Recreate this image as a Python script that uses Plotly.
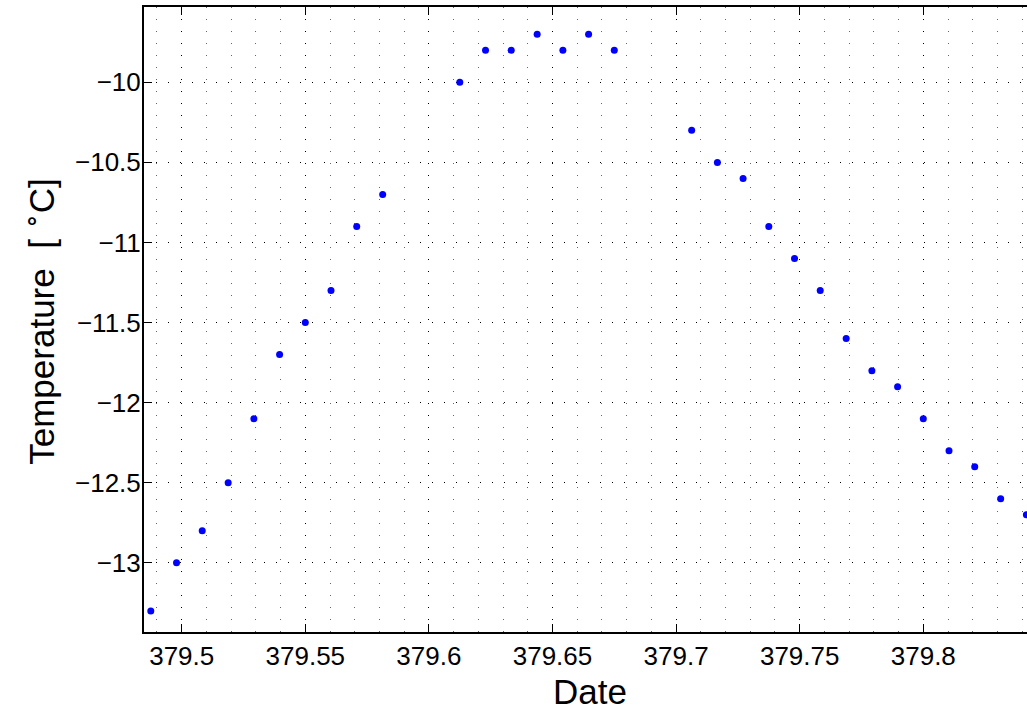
import plotly.graph_objects as go

# Data
dates = [379.4875, 379.4979, 379.5083, 379.5188, 379.5292, 379.5396, 379.5500,
         379.5604, 379.5708, 379.5813,
         379.6125, 379.6229, 379.6333, 379.6438, 379.6542, 379.6646, 379.6750,
         379.7063, 379.7167, 379.7271, 379.7375, 379.7479, 379.7583, 379.7688,
         379.7792, 379.7896, 379.8000, 379.8104, 379.8208, 379.8313, 379.8417]
temps = [-13.3, -13.0, -12.8, -12.5, -12.1, -11.7, -11.5,
         -11.3, -10.9, -10.7,
         -10.0, -9.8, -9.8, -9.7, -9.8, -9.7, -9.8,
         -10.3, -10.5, -10.6, -10.9, -11.1, -11.3, -11.6,
         -11.8, -11.9, -12.1, -12.3, -12.4, -12.6, -12.7]

x_tick_vals = [379.5, 379.55, 379.6, 379.65, 379.7, 379.75, 379.8]
x_tick_labels = ["379.5", "379.55", "379.6", "379.65", "379.7", "379.75", "379.8"]
y_tick_vals = [-13, -12.5, -12, -11.5, -11, -10.5, -10]
y_tick_labels = ["\u221213", "\u221212.5", "\u221212", "\u221211.5", "\u221211", "\u221210.5", "\u221210"]

x_title = "Date"
y_title = "Temperature  [ <sup>\u2218</sup>C]"

FONT = "Liberation Sans, Arial, Helvetica, sans-serif"

fig = go.Figure()
fig.add_trace(go.Scatter(
    x=dates, y=temps, mode="markers",
    marker=dict(color="#0000FF", size=7, line=dict(width=0)),
    showlegend=False, cliponaxis=True,
))

fig.update_layout(
    width=1027, height=711,
    margin=dict(l=144, r=0, t=7, b=79, autoexpand=False),
    paper_bgcolor="white", plot_bgcolor="white",
    font=dict(family=FONT, color="black"),
    annotations=[
        dict(text=x_title, xref="paper", yref="paper", x=0.505, y=-0.0951,
             xanchor="center", yanchor="middle", showarrow=False,
             font=dict(size=35, family=FONT, color="black")),
        dict(text=y_title, xref="paper", yref="paper", x=-0.1189, y=0.4964,
             xanchor="center", yanchor="middle", showarrow=False, textangle=-90,
             font=dict(size=35, family=FONT, color="black")),
    ],
)

fig.update_xaxes(
    range=[379.48475, 379.84195], automargin=False,
    tickvals=x_tick_vals, ticktext=x_tick_labels,
    tickfont=dict(size=26, family=FONT, color="black"),
    ticks="inside", ticklen=8, tickwidth=1, tickcolor="black",
    showline=True, linecolor="black", linewidth=2, mirror="ticks",
    showgrid=True, gridcolor="black", gridwidth=1, griddash="1px,11px",
    minor=dict(dtick=0.01, tick0=379.5, showgrid=True, gridcolor="#666666",
               gridwidth=1, griddash="1px,11px"),
    zeroline=False,
)

fig.update_yaxes(
    range=[-13.4316, -9.530], automargin=False,
    tickvals=y_tick_vals, ticktext=y_tick_labels,
    tickfont=dict(size=26, family=FONT, color="black"),
    ticks="inside", ticklen=8, tickwidth=1, tickcolor="black",
    ticklabelstandoff=-4,
    showline=True, linecolor="black", linewidth=2, mirror=False,
    showgrid=True, gridcolor="black", gridwidth=1, griddash="1px,11px",
    zeroline=False,
)

fig.write_html(
    "out.html",
    config={"displayModeBar": False},
    post_script="document.body.style.margin='0';document.body.style.overflow='hidden';",
)
